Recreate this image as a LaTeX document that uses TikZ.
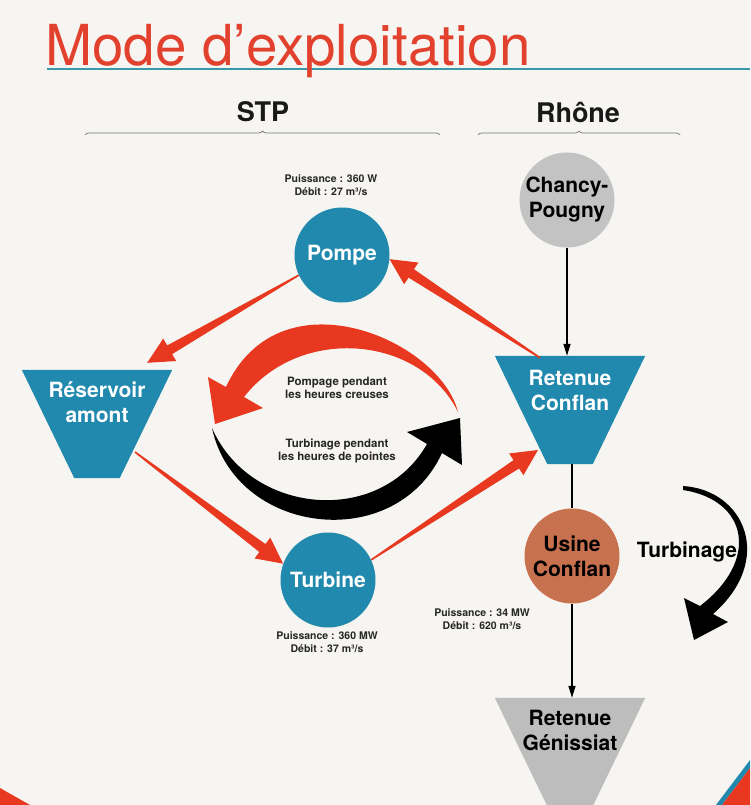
\documentclass[tikz,border=0pt]{standalone}
\usepackage{fontspec}
\setmainfont{TeX Gyre Heros}
\usetikzlibrary{arrows.meta,calc,decorations.pathreplacing}
\definecolor{bgpaper}{HTML}{F6F5F1}
\definecolor{titlered}{HTML}{E2412E}
\definecolor{arrowred}{HTML}{E8381F}
\definecolor{tealnode}{HTML}{2189AE}
\definecolor{tealline}{HTML}{3C98A6}
\definecolor{graynode}{HTML}{C3C3C3}
\definecolor{graytank}{HTML}{BDBDBD}
\definecolor{usinecol}{HTML}{C8714F}
\tikzset{
  bubble/.style={circle, minimum size=95pt, inner sep=0pt, font=\fontsize{21}{25}\selectfont\bfseries, align=center},
  tankbox/.style={rectangle, minimum width=150pt, minimum height=108pt, inner sep=0pt},
  tanklabel/.style={font=\fontsize{21}{25}\selectfont\bfseries, align=center},
  smallinfo/.style={font=\fontsize{10.5}{13}\selectfont\bfseries, align=center, text=black!85},
  midinfo/.style={font=\fontsize{11.5}{13.5}\selectfont\bfseries, align=center, text=black!85},
  heading/.style={font=\fontsize{27}{30}\selectfont\bfseries, text=black!90},
  flow/.style={line width=1.6pt, black},
  blackarrow/.style={-{Triangle[length=12pt,width=7pt]}},
  redflow/.style={fill=arrowred},
  bracestyle/.style={draw=black!55, line width=0.7pt, decorate, decoration={brace, amplitude=4pt}},
}
\newcommand\redtaper[2]{%
  \coordinate (tA) at (#1);
  \coordinate (tB) at (#2);
  \coordinate (tH) at ($(tB)!26pt!(tA)$);
  \fill[redflow] ($(tA)!0.8pt!90:(tB)$) -- ($(tH)!5pt!-90:(tA)$) -- ($(tH)!13pt!-90:(tA)$) -- (tB)
     -- ($(tH)!13pt!90:(tA)$) -- ($(tH)!5pt!90:(tA)$) -- ($(tA)!0.8pt!-90:(tB)$) -- cycle;}
\newcommand\tankshape[2]{%
  \fill[#2] (#1.north west) -- (#1.north east) -- ($(#1.south east)+(-52.5,0)$) -- ($(#1.south west)+(52.5,0)$) -- cycle;}
\begin{document}
\begin{tikzpicture}[x=1pt, y=-1pt]
  \useasboundingbox (0,0) rectangle (750,805);
  \fill[bgpaper] (0,0) rectangle (750,805);
  % corner decorations
  \fill[arrowred] (0,788) -- (30,805) -- (0,805) -- cycle;
  \fill[tealnode] (716,805) -- (750,760) -- (750,768) -- (722,805) -- cycle;
  \fill[arrowred] (722,805) -- (750,768) -- (750,805) -- cycle;

  % title
  \draw[tealline, line width=2.5pt] (47,69) -- (750,69);
  \node[anchor=base west, inner sep=0pt, text=titlered, font=\fontsize{56.5}{60}\selectfont] (title) at (45,66) {Mode d’exploitation};

  % headings
  \node[heading] (stp) at (263,112) {STP};
  \node[heading] (rhone) at (578,112) {Rhône};
  \draw[bracestyle] (85,135) -- (440,135);
  \draw[bracestyle] (478,135) -- (680,135);

  % nodes
  \node[bubble, fill=graynode, text=black] (chancy) at (567,200) {Chancy-\\Pougny};
  \node[bubble, fill=tealnode, text=white] (pompe) at (342,255) {Pompe};
  \node[bubble, fill=tealnode, text=white] (turbine) at (328,580) {Turbine};
  \node[bubble, fill=usinecol, text=black] (usine) at (572,556) {Usine\\Conflan};

  \node[tankbox] (retenue) at (570,410) {};
  \tankshape{retenue}{tealnode}
  \node[tanklabel, text=white] (retenuetxt) at ($(retenue.center)+(0,-20)$) {Retenue\\Conflan};
  \node[tankbox] (reservoir) at (97,424) {};
  \tankshape{reservoir}{tealnode}
  \node[tanklabel, text=white] (reservoirtxt) at ($(reservoir.center)+(0,-22)$) {Réservoir\\amont};
  \node[tankbox] (genissiat) at (570,752) {};
  \tankshape{genissiat}{graytank}
  \node[tanklabel, text=black] (genissiattxt) at ($(genissiat.center)+(0,-22)$) {Retenue\\Génissiat};

  % info labels
  \node[smallinfo] (pompeinfo) at (331,185) {Puissance : 360 W\\Débit : 27 m³/s};
  \node[smallinfo] (turbineinfo) at (327,642) {Puissance : 360 MW\\Débit : 37 m³/s};
  \node[smallinfo] (usineinfo) at (482,619) {Puissance : 34 MW\\Débit : 620 m³/s};
  \node[midinfo] (pompagetxt) at (337,388) {Pompage pendant\\les heures creuses};
  \node[midinfo] (turbinagetxt) at (337,451) {Turbinage pendant\\les heures de pointes};

  % black connectors
  \coordinate (rtop) at (retenue.north);
  \coordinate (rbot) at (retenue.south);
  \coordinate (gtop) at (genissiat.north);
  \draw[flow, blackarrow] (chancy.south) -- (chancy.south |- rtop);
  \draw[flow] (usine.north |- rbot) -- (usine.north);
  \draw[flow, blackarrow] (usine.south) -- (usine.south |- gtop);

  % red tapered connectors
  \redtaper{$(retenue.north)+(-30,2)$}{pompe.-5}
  \redtaper{pompe.205}{$(reservoir.north east)+(-25,-7)$}
  \redtaper{$(reservoir.center)+(38,28)$}{turbine.160}
  \redtaper{turbine.25}{$(retenue.center)+(-32,40)$}

  % curved cycle arrows
  \fill[arrowred] (458,412) .. controls (440,340) and (280,270) .. (226,387)
     -- (208,377) -- (215,424) -- (263,408) -- (244,397)
     .. controls (300,325) and (420,335) .. (458,412) -- cycle;
  \fill[black] (212,428) .. controls (235,535) and (395,555) .. (442,453)
     -- (462,465) -- (460,418) -- (407,432) -- (427,444)
     .. controls (380,527) and (250,515) .. (212,428) -- cycle;
  % turbinage arrow
  \fill[black] (683,486) .. controls (745,490) and (775,560) .. (713,614)
     -- (728,622) -- (694,640) -- (684,598) -- (700,606)
     .. controls (760,560) and (748,500) .. (683,490) -- cycle;
  \node[tanklabel, text=black] (turbinagelbl) at (687,552) {Turbinage};
\end{tikzpicture}
\end{document}
